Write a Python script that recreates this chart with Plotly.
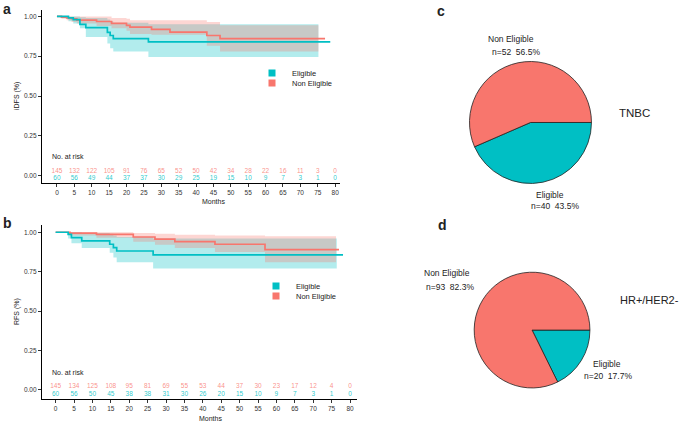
import plotly.graph_objects as go

RED = "#F8766D"
TEAL = "#00BFC4"
RED_F = "rgba(248,118,109,0.30)"
TEAL_F = "rgba(0,191,196,0.30)"
FONT = "Liberation Sans, Arial, sans-serif"

# ---------------- Panel a: iDFS ----------------
a_elig_t = [0, 3.3, 4.7, 6.6, 8.3, 14.5, 15.3, 16.2, 26.3, 78.6]
a_elig_s = [1.0, 0.99, 0.98, 0.95, 0.93, 0.90, 0.88, 0.86, 0.84, 0.84]
a_elig_lo = [1.0, 0.97, 0.955, 0.925, 0.87, 0.83, 0.80, 0.78, 0.745, 0.745]
a_elig_hi = [1.0, 1.0, 1.0, 0.995, 0.99, 0.98, 0.97, 0.96, 0.95, 0.95]
a_elig_band_end = 75.2

a_non_t = [0, 1.3, 2.8, 4.2, 5.7, 11.4, 15.7, 20, 21, 27.2, 32.5, 43.1, 46.9, 77.1]
a_non_s = [1.0, 0.995, 0.99, 0.985, 0.977, 0.968, 0.956, 0.943, 0.932, 0.918, 0.901, 0.880, 0.860, 0.860]
a_non_lo = [1.0, 0.985, 0.975, 0.965, 0.955, 0.94, 0.925, 0.91, 0.89, 0.885, 0.885, 0.815, 0.78, 0.78]
a_non_hi = [1.0, 1.0, 1.0, 1.0, 1.0, 1.0, 0.99, 0.985, 0.975, 0.975, 0.975, 0.965, 0.945, 0.945]
a_non_band_end = 75.2

a_risk_non = [145, 132, 122, 105, 91, 76, 65, 52, 50, 42, 34, 28, 22, 16, 11, 3, 0]
a_risk_elig = [60, 56, 49, 44, 37, 37, 30, 29, 25, 19, 15, 10, 9, 7, 3, 1, 0]

# ---------------- Panel b: RFS ----------------
b_elig_t = [0, 3.4, 4.3, 7.1, 14.7, 15.7, 16.6, 26.5, 78.1]
b_elig_s = [1.0, 0.987, 0.966, 0.945, 0.924, 0.902, 0.881, 0.856, 0.856]
b_elig_lo = [1.0, 0.96, 0.93, 0.90, 0.87, 0.84, 0.81, 0.77, 0.77]
b_elig_hi = [1.0, 1.0, 1.0, 0.995, 0.99, 0.98, 0.97, 0.96, 0.96]
b_elig_band_end = 76.4

b_non_t = [0, 3.9, 11.1, 21.1, 27, 32.4, 43.3, 56.9, 77]
b_non_s = [1.0, 0.994, 0.987, 0.970, 0.957, 0.940, 0.924, 0.890, 0.890]
b_non_lo = [1.0, 0.98, 0.965, 0.94, 0.92, 0.90, 0.875, 0.81, 0.81]
b_non_hi = [1.0, 1.0, 1.0, 0.995, 0.99, 0.985, 0.98, 0.975, 0.975]
b_non_band_end = 76.2

b_risk_non = [145, 134, 125, 108, 95, 81, 69, 55, 53, 44, 37, 30, 23, 17, 12, 4, 0]
b_risk_elig = [60, 56, 50, 45, 38, 38, 31, 30, 26, 20, 15, 10, 9, 7, 3, 1, 0]

risk_times = list(range(0, 85, 5))
y_ticks = [0, 0.25, 0.5, 0.75, 1.0]
y_ticktext = ["0.00", "0.25", "0.50", "0.75", "1.00"]

# ---------------- Pies ----------------
pie_labels = ["Eligible", "Non Eligible"]
tnbc_n = [40, 52]
hr_n = [20, 93]

fig = go.Figure()


def add_km(t, s, lo, hi, band_end, fcol, lcol, xa, ya):
    bt = t[:-1] + [band_end]
    fig.add_trace(go.Scatter(x=bt, y=lo, mode="lines", line=dict(width=0, shape="hv"),
                             showlegend=False, hoverinfo="skip", xaxis=xa, yaxis=ya))
    fig.add_trace(go.Scatter(x=bt, y=hi, mode="lines", line=dict(width=0, shape="hv"),
                             fill="tonexty", fillcolor=fcol, showlegend=False,
                             hoverinfo="skip", xaxis=xa, yaxis=ya))


def add_line(t, s, lcol, xa, ya):
    fig.add_trace(go.Scatter(x=t, y=s, mode="lines", line=dict(width=1.7, shape="hv", color=lcol),
                             showlegend=False, xaxis=xa, yaxis=ya))


for xa, ya, data in [
    ("x", "y", [(a_elig_t, a_elig_s, a_elig_lo, a_elig_hi, a_elig_band_end, TEAL_F, TEAL),
                (a_non_t, a_non_s, a_non_lo, a_non_hi, a_non_band_end, RED_F, RED)]),
    ("x2", "y2", [(b_elig_t, b_elig_s, b_elig_lo, b_elig_hi, b_elig_band_end, TEAL_F, TEAL),
                  (b_non_t, b_non_s, b_non_lo, b_non_hi, b_non_band_end, RED_F, RED)]),
]:
    for d in data:
        add_km(*d, xa, ya)
    add_line(data[1][0], data[1][1], RED, xa, ya)
    add_line(data[0][0], data[0][1], TEAL, xa, ya)

# risk table texts
for xa, ya, rn, re, yn, ye in [("x", "y", a_risk_non, a_risk_elig, 0.03, -0.018),
                               ("x2", "y2", b_risk_non, b_risk_elig, 0.025, -0.03)]:
    fig.add_trace(go.Scatter(x=risk_times, y=[yn] * len(risk_times), mode="text",
                             text=[str(v) for v in rn],
                             textfont=dict(size=6.5, color="rgba(248,118,109,0.8)", family=FONT),
                             showlegend=False, hoverinfo="skip", xaxis=xa, yaxis=ya))
    fig.add_trace(go.Scatter(x=risk_times, y=[ye] * len(risk_times), mode="text",
                             text=[str(v) for v in re],
                             textfont=dict(size=6.5, color="rgba(0,191,196,0.85)", family=FONT),
                             showlegend=False, hoverinfo="skip", xaxis=xa, yaxis=ya))

# legend entries (one legend per entry so they can sit close together)
legend_specs = [("legend", "x", "y", "Eligible", TEAL, 252, 73),
                ("legend2", "x", "y", "Non Eligible", RED, 252, 83),
                ("legend3", "x2", "y2", "Eligible", TEAL, 256, 286),
                ("legend4", "x2", "y2", "Non Eligible", RED, 256, 296)]
legend_layout = {}
for lg, xa, ya, name, col, lx, ly in legend_specs:
    fig.add_trace(go.Scatter(x=[None], y=[None], mode="markers", name=name,
                             marker=dict(symbol="square", size=7, color=col),
                             legend=lg, xaxis=xa, yaxis=ya))
    legend_layout[lg] = dict(x=lx / 683, y=1 - ly / 424, xanchor="left", yanchor="middle",
                             font=dict(size=7.5, family=FONT, color="#222"),
                             bgcolor="rgba(0,0,0,0)", traceorder="normal", itemwidth=30)

# pies
fig.add_trace(go.Pie(labels=pie_labels, values=tnbc_n, sort=False, direction="clockwise",
                     rotation=90, textinfo="none", showlegend=False,
                     marker=dict(colors=[TEAL, RED], line=dict(color="#222", width=0.8)),
                     domain=dict(x=[0.6874, 0.8660], y=[0.5672, 0.8550])))
fig.add_trace(go.Pie(labels=pie_labels, values=hr_n, sort=False, direction="clockwise",
                     rotation=90, textinfo="none", showlegend=False,
                     marker=dict(colors=[TEAL, RED], line=dict(color="#222", width=0.8)),
                     domain=dict(x=[0.6940, 0.8640], y=[0.0850, 0.3580])))

axis_common = dict(showline=True, linecolor="black", linewidth=1.3, ticks="outside",
                   ticklen=3, tickwidth=0.8, tickcolor="#333", showgrid=False, zeroline=False,
                   tickfont=dict(size=6.5, color="#333", family=FONT))

fig.update_layout(
    width=683, height=424, margin=dict(l=0, r=0, t=0, b=0),
    paper_bgcolor="white", plot_bgcolor="white",
    font=dict(family=FONT, color="#222"),
    xaxis=dict(domain=[0.0615, 0.4978], range=[-4.3, 81.4], tickvals=risk_times,
               anchor="y", **axis_common),
    yaxis=dict(domain=[0.5684, 0.9764], range=[-0.046, 1.04], tickvals=y_ticks,
               ticktext=y_ticktext, anchor="x", **axis_common),
    xaxis2=dict(domain=[0.0615, 0.5227], range=[-3.7, 81.9], tickvals=risk_times,
                anchor="y2", **axis_common),
    yaxis2=dict(domain=[0.059, 0.4693], range=[-0.058, 1.046], tickvals=y_ticks,
                ticktext=y_ticktext, anchor="x2", **axis_common),
    **legend_layout,
)


def ann(x, y, text, size=8.5, angle=0, bold=False, xanchor="center"):
    t = f"<b>{text}</b>" if bold else text
    fig.add_annotation(x=x / 683, y=1 - y / 424, xref="paper", yref="paper", text=t,
                       showarrow=False, textangle=angle, xanchor=xanchor, yanchor="middle",
                       font=dict(size=size, family=FONT, color="#222"))


# panel letters
ann(7, 9, "a", 14, bold=True)
ann(7, 223, "b", 14, bold=True)
ann(441, 11, "c", 14, bold=True)
ann(442, 225, "d", 14, bold=True)

# axis titles
ann(17, 96, "iDFS (%)", 7, angle=-90)
ann(17, 312, "RFS (%)", 7, angle=-90)
ann(213, 202, "Months", 7)
ann(210, 418, "Months", 7)

# no at risk
ann(50, 156, "No. at risk", 7, xanchor="left")
ann(50, 372, "No. at risk", 7, xanchor="left")

# pie labels
ann(511, 39, "Non Eligible", 8.5)
ann(516, 52, "n=52  56.5%", 8.5)
ann(550, 195, "Eligible", 8.5)
ann(555, 206, "n=40  43.5%", 8.5)
ann(634, 113, "TNBC", 11.5)

ann(447, 273, "Non Eligible", 8.5)
ann(450, 287, "n=93  82.3%", 8.5)
ann(607, 364, "Eligible", 8.5)
ann(608, 376, "n=20  17.7%", 8.5)
ann(681, 300, "HR+/HER2-", 11, xanchor="right")

fig.write_html("out.html")
